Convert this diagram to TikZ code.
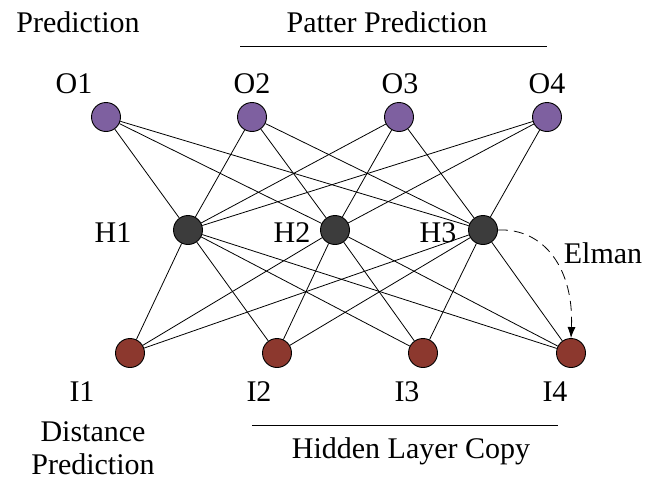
\documentclass[tikz,border=0pt]{standalone}
\usepackage{fontspec}
\setmainfont{Liberation Serif}
\usetikzlibrary{arrows.meta}
\definecolor{opurple}{RGB}{126,96,160}
\definecolor{hgray}{RGB}{60,60,60}
\definecolor{ired}{RGB}{140,56,46}
\begin{document}
\begin{tikzpicture}[x=1pt,y=-1pt,
  neuron/.style={circle,draw=black,line width=0.9pt,minimum size=29pt,inner sep=0pt},
  onode/.style={neuron,fill=opurple},
  hnode/.style={neuron,fill=hgray},
  inode/.style={neuron,fill=ired},
  lbl/.style={inner sep=0pt,font=\fontsize{30}{33}\selectfont},
  conn/.style={line width=0.8pt,draw=black}]
\useasboundingbox (0,0) rectangle (646,482);
% nodes
\node[onode] (O1) at (106,117) {};
\node[onode] (O2) at (252,117) {};
\node[onode] (O3) at (399,117) {};
\node[onode] (O4) at (547,117) {};
\node[hnode] (H1) at (188,230) {};
\node[hnode] (H2) at (335,230) {};
\node[hnode] (H3) at (483,230) {};
\node[inode] (I1) at (130,353) {};
\node[inode] (I2) at (277,353) {};
\node[inode] (I3) at (423,353) {};
\node[inode] (I4) at (571,353) {};
% connections
\foreach \o in {O1,O2,O3,O4}{
  \foreach \h in {H1,H2,H3}{
    \draw[conn] (\o) -- (\h);
  }
}
\foreach \h in {H1,H2,H3}{
  \foreach \i in {I1,I2,I3,I4}{
    \draw[conn] (\h) -- (\i);
  }
}
% Elman recurrent arrow
\draw[conn,dash pattern=on 10pt off 6pt,-{Latex[length=11pt,width=8pt]}]
  (H3.east) .. controls (545,228) and (574,270) .. (I4.north);
% labels
\node[lbl] (tPred) at (78,22) {Prediction};
\node[lbl] (tPat) at (387,22) {Patter Prediction};
\coordinate (lt1) at (240,46);
\coordinate (lt2) at (547,46);
\draw[line width=1pt] (lt1) -- (lt2);
\node[lbl] (lO1) at (74,84) {O1};
\node[lbl] (lO2) at (252,84) {O2};
\node[lbl] (lO3) at (400,84) {O3};
\node[lbl] (lO4) at (547,84) {O4};
\node[lbl] (lH1) at (113,233) {H1};
\node[lbl] (lH2) at (292,233) {H2};
\node[lbl] (lH3) at (438,233) {H3};
\node[lbl] (lEl) at (603,253) {Elman};
\node[lbl] (lI1) at (82,392) {I1};
\node[lbl] (lI2) at (259,392) {I2};
\node[lbl] (lI3) at (407,392) {I3};
\node[lbl] (lI4) at (555,392) {I4};
\coordinate (lb1) at (252,425);
\coordinate (lb2) at (558,425);
\draw[line width=1pt] (lb1) -- (lb2);
\node[lbl,align=center] (tDist) at (93,448) {Distance\\Prediction};
\node[lbl] (tHid) at (411,451) {Hidden Layer Copy};
\end{tikzpicture}
\end{document}
